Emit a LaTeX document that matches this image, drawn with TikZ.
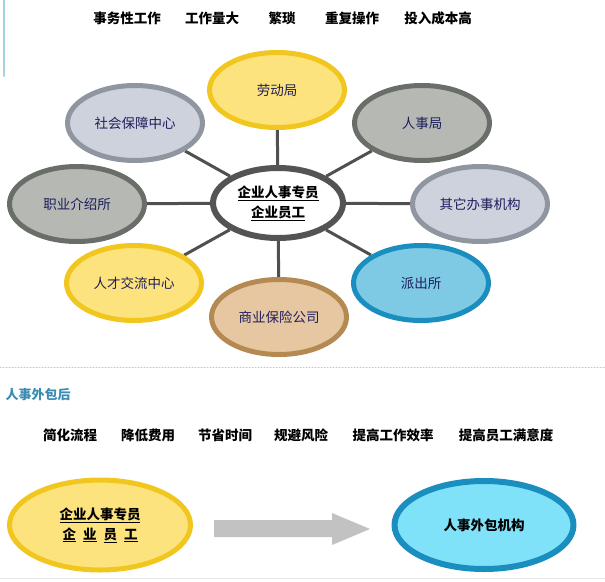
\documentclass[tikz,border=0pt]{standalone}
\usepackage{fontspec}
\newfontfamily\cjk{Noto Sans CJK SC}
\usetikzlibrary{shapes.geometric,backgrounds}
\definecolor{GoldFill}{HTML}{FDE37D}
\definecolor{GoldRim}{HTML}{F1C61F}
\definecolor{SlateFill}{HTML}{CDD2DD}
\definecolor{SlateRim}{HTML}{8F969F}
\definecolor{StoneFill}{HTML}{B5B8B3}
\definecolor{StoneRim}{HTML}{6A6E69}
\definecolor{TanFill}{HTML}{E6C7A2}
\definecolor{TanRim}{HTML}{B58A52}
\definecolor{SkyFill}{HTML}{7ECAE5}
\definecolor{SkyRim}{HTML}{1A8EBE}
\definecolor{CyanFill}{HTML}{80E2F8}
\definecolor{HubRim}{HTML}{545454}
\definecolor{LinkGray}{HTML}{505050}
\definecolor{LabelNavy}{HTML}{1E1E5C}
\definecolor{TealText}{HTML}{3A8CB2}
\definecolor{ArrowGray}{HTML}{C2C2C2}
\definecolor{SepGray}{HTML}{C6C6B6}
\definecolor{BarBlue}{HTML}{A3D3E3}

\begin{document}
\begin{tikzpicture}[x=1pt,y=-1pt,line cap=round,line join=round,
  font=\cjk\fontsize{13.5}{17}\selectfont,
  bubble/.style={ellipse,line width=5pt,minimum width=135pt,minimum height=75pt,inner sep=0pt,text=LabelNavy},
  gold/.style={draw=GoldRim,fill=GoldFill},
  slate/.style={draw=SlateRim,fill=SlateFill},
  stone/.style={draw=StoneRim,fill=StoneFill},
  tan/.style={draw=TanRim,fill=TanFill},
  sky/.style={draw=SkyRim,fill=SkyFill},
  strong/.style={text=black,font=\cjk\bfseries\fontsize{13.5}{20}\selectfont,align=center},
  link/.style={draw=LinkGray,line width=3pt}]
  \useasboundingbox (0,0) rectangle (605,581);
  \draw[BarBlue,line width=2pt] (4,0) -- (4,76);
  % before
  \foreach \nm/\x/\txt in {dutywork/127/事务性工作,bigload/212/工作量大,tedious/282/繁琐,repeat/352/重复操作,costhigh/438/投入成本高}
    \node[strong] (\nm) at (\x,18) {\txt};
  \node[bubble,draw=HubRim,fill=white,line width=6pt,minimum width=130pt,minimum height=70pt,strong] (hub) at (278,203) {\underline{企业人事专员}\\\underline{企业员工}};
  \foreach \nm/\x/\y/\kind/\txt in {labour/277/90/gold/劳动局,social/135/123/slate/社会保障中心,hrbureau/422/123/stone/人事局,jobagency/77/204/stone/职业介绍所,otheroffice/480/204/slate/其它办事机构,talent/134/283/gold/人才交流中心,insurance/279/317/tan/商业保险公司,police/421/283/sky/派出所}
    \node[bubble,\kind] (\nm) at (\x,\y) {\txt};
  \begin{scope}[on background layer]
    \foreach \nm in {labour,social,hrbureau,jobagency,otheroffice,talent,insurance,police}
      \draw[link] (hub) -- (\nm);
  \end{scope}
  \draw[SepGray,dotted,line width=1pt] (0,367) -- (605,367);
  % after
  \node[text=TealText,font=\cjk\bfseries\fontsize{13}{16}\selectfont] (after) at (38,395) {人事外包后};
  \foreach \nm/\x/\txt in {simplify/70/简化流程,lowcost/148/降低费用,savetime/225/节省时间,lowrisk/301/规避风险,efficiency/393/提高工作效率,satisfaction/506/提高员工满意度}
    \node[strong] (\nm) at (\x,435) {\txt};
  \node[bubble,gold,minimum width=181pt,minimum height=90pt,strong] (staff) at (100,525) {\underline{企业人事专员}\\\underline{企}\hspace{7pt}\underline{业}\hspace{7pt}\underline{员}\hspace{7pt}\underline{工}};
  \node[bubble,draw=SkyRim,fill=CyanFill,line width=6pt,minimum width=179pt,minimum height=88pt,strong] (outsource) at (484,525) {人事外包机构};
  \fill[ArrowGray,line join=miter] (214,520) -- (332,520) -- (332,513) -- (370,529) -- (332,545) -- (332,537) -- (214,537) -- cycle;
  \draw[gray!20,line width=1pt] (0,578) -- (605,578);
\end{tikzpicture}
\end{document}
